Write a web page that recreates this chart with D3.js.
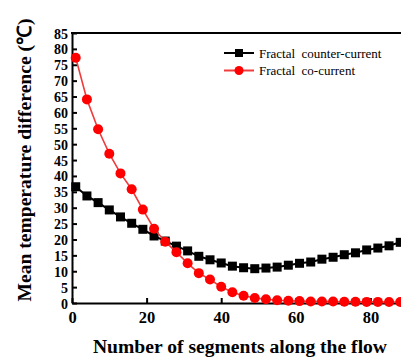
<!DOCTYPE html>
<html>
<head>
<meta charset="utf-8">
<script src="https://cdn.jsdelivr.net/npm/d3@7"></script>
<style>
  body { margin: 0; background: #fff; }
  svg { display: block; font-family: "Times New Roman", "Liberation Serif", serif; }
</style>
</head>
<body>
<div id="chart"></div>
<script>
const W = 401, H = 358;

// segments along the flow
const segments = [1, 4, 7, 10, 13, 16, 19, 22, 25, 28, 31, 34, 37, 40, 43, 46, 49,
                  52, 55, 58, 61, 64, 67, 70, 73, 76, 79, 82, 85, 88];
const counterCurrent = [36.6, 33.7, 31.6, 29.3, 27.1, 25.1, 23.2, 21.1, 19.5, 17.9, 16.4, 14.7, 13.6, 12.6, 11.6, 11.1, 10.8,
                        11.0, 11.3, 11.9, 12.5, 12.9, 13.8, 14.4, 15.2, 15.8, 16.7, 17.3, 18.0, 19.1];
const coCurrent = [77.2, 64.1, 54.7, 47.0, 40.8, 35.8, 29.4, 23.4, 19.3, 16.0, 12.5, 9.4, 7.4, 5.1, 3.4, 2.3, 1.6,
                   1.2, 0.85, 0.7, 0.6, 0.5, 0.5, 0.45, 0.4, 0.4, 0.35, 0.35, 0.3, 0.3];
const xTicks = [0, 20, 40, 60, 80];
const yTicks = d3.range(0, 90, 5);
const seriesNames = ['Fractal  counter-current', 'Fractal  co-current'];

const m = { left: 72, top: 33, bottom: 303 };

const svg = d3.select('#chart').append('svg')
    .attr('width', W)
    .attr('height', H);

const x = d3.scaleLinear().domain([0, 90]).range([m.left, m.left + 90 * 3.73]);
const y = d3.scaleLinear().domain([0, 85]).range([m.bottom, m.top]);

svg.append('defs').append('clipPath').attr('id', 'clip')
  .append('rect').attr('x', m.left - 6).attr('y', m.top - 6).attr('width', W).attr('height', m.bottom - m.top + 12);

// axes
const xAxis = svg.append('g')
    .attr('transform', `translate(0,${m.bottom})`)
    .call(d3.axisBottom(x).tickValues(xTicks).tickSizeInner(-5).tickSizeOuter(0).tickPadding(8));
const yAxis = svg.append('g')
    .attr('transform', `translate(${m.left},0)`)
    .call(d3.axisLeft(y).tickValues(yTicks).tickSizeInner(-5).tickSizeOuter(0).tickPadding(4));

[xAxis, yAxis].forEach(g => {
    g.select('.domain').attr('stroke', '#000').attr('stroke-width', 2);
    g.selectAll('.tick line').attr('stroke', '#000').attr('stroke-width', 2);
    g.selectAll('.tick text')
        .attr('fill', '#000')
        .style('font-family', '"Times New Roman", "Liberation Serif", serif')
        .style('font-weight', 'bold')
        .style('font-size', '16.5px');
});
// y labels sit every 15.9 px, keep them a bit smaller so they do not collide
yAxis.selectAll('.tick text').attr('dy', '0.36em').style('font-size', '14px');

// top frame line
svg.append('line')
    .attr('x1', m.left - 1).attr('x2', W)
    .attr('y1', y(85)).attr('y2', y(85))
    .attr('stroke', '#000').attr('stroke-width', 2);

const plot = svg.append('g').attr('clip-path', 'url(#clip)');
const line = d3.line().x((d, i) => x(segments[i])).y(d => y(d));

// counter-current (black squares)
plot.append('path').datum(counterCurrent)
    .attr('d', line).attr('fill', 'none').attr('stroke', '#000').attr('stroke-width', 2);
plot.selectAll('rect.cc').data(counterCurrent).enter().append('rect')
    .attr('class', 'cc')
    .attr('x', (d, i) => x(segments[i]) - 4.5)
    .attr('y', d => y(d) - 4.5)
    .attr('width', 9).attr('height', 9)
    .attr('fill', '#000');

// co-current (red circles)
plot.append('path').datum(coCurrent)
    .attr('d', line).attr('fill', 'none').attr('stroke', '#f03c3c').attr('stroke-width', 1.6);
plot.selectAll('circle.co').data(coCurrent).enter().append('circle')
    .attr('class', 'co')
    .attr('cx', (d, i) => x(segments[i]))
    .attr('cy', d => y(d))
    .attr('r', 5)
    .attr('fill', '#ff0000');

// legend
const legend = svg.append('g');
seriesNames.forEach((name, i) => {
    const ly = 53 + i * 17.5;
    const col = i === 0 ? '#000' : '#f03c3c';
    legend.append('line')
        .attr('x1', 224).attr('x2', 254).attr('y1', ly).attr('y2', ly)
        .attr('stroke', col).attr('stroke-width', 2);
    if (i === 0) {
        legend.append('rect').attr('x', 235).attr('y', ly - 4).attr('width', 8).attr('height', 8).attr('fill', '#000');
    } else {
        legend.append('circle').attr('cx', 239).attr('cy', ly).attr('r', 4.5).attr('fill', '#ff0000');
    }
    legend.append('text')
        .attr('x', 259).attr('y', ly).attr('dy', '0.35em')
        .style('font-size', '13px')
        .style('white-space', 'pre')
        .attr('xml:space', 'preserve')
        .text(name);
});

// axis titles
svg.append('text')
    .attr('x', 240).attr('y', 353)
    .attr('text-anchor', 'middle')
    .style('font-weight', 'bold').style('font-size', '19.6px')
    .text('Number of segments along the flow');

svg.append('text')
    .attr('transform', `translate(31,${(m.top + m.bottom) / 2 - 8}) rotate(-90)`)
    .attr('text-anchor', 'middle')
    .style('font-weight', 'bold').style('font-size', '19.6px')
    .text('Mean temperature difference (℃)');
</script>
</body>
</html>
